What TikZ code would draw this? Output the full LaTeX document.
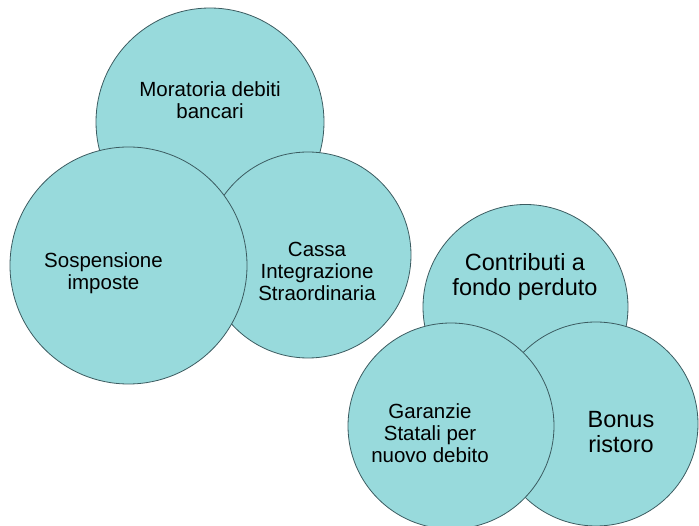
\documentclass[tikz,border=0pt]{standalone}
\usepackage{fontspec}
\setmainfont{Liberation Sans}
\usepackage{tikz}
\definecolor{bubblefill}{HTML}{98DADC}
\definecolor{bubbleline}{HTML}{3B5B60}
\tikzset{bubble/.style = {circle, draw=bubbleline, fill=bubblefill, line width=0.8pt,
                          inner sep=0pt},
         smalltext/.style = {align=center, font=\fontsize{20.5}{22}\selectfont},
         bigtext/.style = {align=center, font=\fontsize{23.5}{25}\selectfont}}
\begin{document}
\begin{tikzpicture}[x=1pt, y=-1pt]
      \useasboundingbox (0, 0) rectangle (699, 526);
      % first group
      \node [bubble, minimum size=228pt] (moratoria) at (210, 122) {};
      \node [bubble, minimum size=206pt] (cassa) at (308, 255) {};
      \node [bubble, minimum size=237pt] (sospensione) at (128.5, 265.5) {};
      \node [smalltext] (moratoriaText) at (210, 100) {Moratoria debiti\\bancari};
      \node [smalltext] (cassaText) at (317, 271) {Cassa\\Integrazione\\Straordinaria};
      \node [smalltext] (sospensioneText) at (103.5, 273) {Sospensione\\imposte};
      % second group
      \node [bubble, minimum size=205pt] (contributi) at (525.5, 307) {};
      \node [bubble, minimum size=204pt] (bonus) at (596, 424) {};
      \node [bubble, minimum size=206pt] (garanzie) at (451, 426) {};
      \node [bigtext] (contributiText) at (525, 277) {Contributi a\\fondo perduto};
      \node [bigtext] (bonusText) at (621, 432) {Bonus\\ristoro};
      \node [smalltext] (garanzieText) at (430, 433) {Garanzie\\Statali per\\nuovo debito};
    \end{tikzpicture}
\end{document}
